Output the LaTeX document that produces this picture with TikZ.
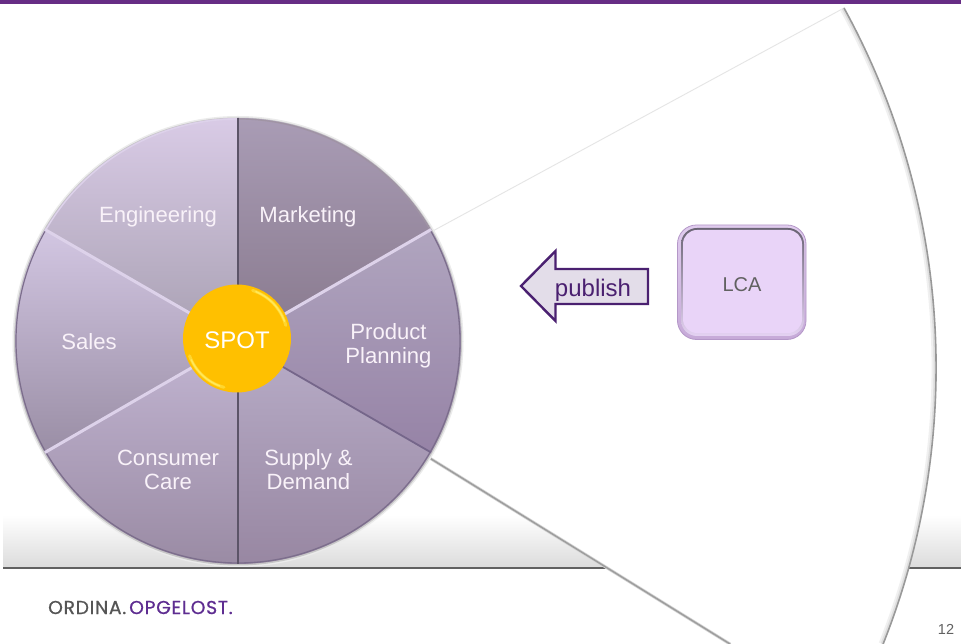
\documentclass[tikz,border=0pt]{standalone}
\usepackage{fontspec}
\setmainfont{Liberation Sans}
\newfontfamily\logofont[FakeBold=0.8,LetterSpace=4]{Poppins}
\definecolor{barpurple}{HTML}{672D85}
\definecolor{arrowline}{HTML}{4A2070}
\definecolor{arrowfill}{HTML}{E3DDE9}
\definecolor{lcafill}{HTML}{E9D4F8}
\definecolor{lcaoutA}{HTML}{E0CCEE}
\definecolor{lcaoutB}{HTML}{C6AAD8}
\definecolor{lcaedge}{HTML}{B497C8}
\definecolor{lcainA}{HTML}{6A6474}
\definecolor{lcainB}{HTML}{E4D2F2}
\definecolor{logogray}{HTML}{555555}
\definecolor{logopurple}{HTML}{5E2D91}
\definecolor{spot}{HTML}{FFC000}
\definecolor{spotlight}{HTML}{FFE95A}
\definecolor{spotmid}{HTML}{FFD62E}
\definecolor{wedgelight}{HTML}{DDD2EA}
\definecolor{wedgedark}{HTML}{5C5468}
\definecolor{lowspoke}{HTML}{75668A}
\definecolor{rimdark}{HTML}{7C6E8C}
\definecolor{m1}{HTML}{A99CB5}\definecolor{m2}{HTML}{88798D}
\definecolor{e1}{HTML}{D9CBE6}\definecolor{e2}{HTML}{A8A0B2}
\definecolor{s1}{HTML}{D2C6E2}\definecolor{s2}{HTML}{9A8EA5}
\definecolor{c1}{HTML}{C2B5D2}\definecolor{c2}{HTML}{9A8BA4}
\definecolor{d1}{HTML}{B8ADC8}\definecolor{d2}{HTML}{9887A2}
\definecolor{p1}{HTML}{B0A5BF}\definecolor{p2}{HTML}{9683A6}
\tikzset{
  x=1pt,y=1pt,
  wheeltext/.style={text=white!95!violet,font=\fontsize{22.1}{24}\selectfont,align=center,inner sep=0pt},
  wedge/.style n args={2}{top color=#1,bottom color=#2,draw=none},
  softline/.style={line cap=round,line join=round},
}
\newcommand{\wedgepath}[2]{(wc) -- ++(#1:223) arc[start angle=#1,end angle=#2,radius=223] -- cycle}
\newcommand{\fanedge}{(fanB) arc[start angle=28.73,end angle=-21.7,radius=748]}
\begin{document}
\begin{tikzpicture}
\useasboundingbox (0,0) rectangle (961,644);
\clip (0,0) rectangle (961,644);
\fill[white] (0,0) rectangle (961,644);
% top bar
\fill[barpurple] (0,640) rectangle (961,644);
% floor band
\shade[top color=white,bottom color=black!14,draw=none] (3,76) rectangle (961,129);
\draw[black!62,line width=1.3pt] (3,76) -- (961,76);
% fan behind the wheel
\coordinate (wc) at (238,303);
\coordinate (fanA) at (431,412);
\coordinate (fanB) at (844,636);
\coordinate (fanD) at (730,0);
\coordinate (fanE) at (428,187);
\fill[white] (fanE) -- (fanA) -- \fanedge -- (fanD) -- cycle;
\draw[black!10,line width=.9pt] (fanA) -- (fanB);
\draw[black!16,line width=3pt,softline] (fanD) -- (fanE);
\draw[black!38,line width=1.5pt,softline] (fanD) -- (fanE);
\begin{scope}
\clip (fanE) -- (fanA) -- \fanedge -- (fanD) -- cycle;
\draw[black!6,line width=9pt] \fanedge;
\draw[black!13,line width=5pt] \fanedge;
\end{scope}
\draw[black!40,line width=1.6pt] \fanedge;
% wheel shadow
\fill[black!8] (238,302.5) circle[radius=225.5];
\fill[black!22] (238,302.5) circle[radius=224];
% wedges
\shade[wedge={m1}{m2}] \wedgepath{30}{90};
\shade[wedge={e1}{e2}] \wedgepath{90}{150};
\shade[wedge={s1}{s2}] \wedgepath{150}{210};
\shade[wedge={c1}{c2}] \wedgepath{210}{270};
\shade[wedge={d1}{d2}] \wedgepath{270}{330};
\shade[wedge={p1}{p2}] \wedgepath{330}{390};
% rim
\draw[wedgelight,line width=1.4pt] (wc) ++(150:222) arc[start angle=150,end angle=90,radius=222];
\draw[m2!80!white,line width=1.2pt] (wc) ++(90:222) arc[start angle=90,end angle=30,radius=222];
\draw[rimdark,line width=1.3pt] (wc) ++(30:222) arc[start angle=30,end angle=-30,radius=222];
\draw[rimdark,line width=1.3pt] (wc) ++(-30:222) arc[start angle=-30,end angle=-90,radius=222];
\draw[rimdark,line width=1.3pt] (wc) ++(-90:222) arc[start angle=-90,end angle=-150,radius=222];
\draw[rimdark,line width=1.2pt] (wc) ++(210:222) arc[start angle=210,end angle=150,radius=222];
% spokes
\draw[wedgedark,line width=1.5pt] (wc) -- ++(90:223);
\draw[wedgedark,line width=1.5pt] (wc) -- ++(-90:223);
\draw[wedgelight,line width=3pt] (wc) -- ++(30:223);
\draw[wedgelight,line width=3pt] (wc) -- ++(150:223);
\draw[wedgelight,line width=3pt] (wc) -- ++(210:223);
\draw[lowspoke,line width=1.8pt] (wc) -- ++(-30:223);
% labels
\node[wheeltext] (engineering) at (158,427.5) {Engineering};
\node[wheeltext] (marketing) at (308,427.5) {Marketing};
\node[wheeltext] (planning) at (388.5,298.5) {Product\\Planning};
\node[wheeltext] (sales) at (89,302) {Sales};
\node[wheeltext] (care) at (168,174.5) {Consumer\\Care};
\node[wheeltext] (supply) at (308.5,174.5) {Supply \&\\Demand};
% hub
\fill[spot] (237,305.5) circle[radius=54];
\draw[spotmid,line width=3pt,line cap=round] (237,305.5) ++(72:50.5) arc[start angle=72,end angle=15,radius=50.5];
\draw[spotmid,line width=3pt,line cap=round] (237,305.5) ++(255:50.5) arc[start angle=255,end angle=200,radius=50.5];
\draw[spotlight,line width=1.5pt,line cap=round] (237,305.5) ++(68:50.5) arc[start angle=68,end angle=20,radius=50.5];
\draw[spotlight,line width=1.5pt,line cap=round] (237,305.5) ++(250:50.5) arc[start angle=250,end angle=205,radius=50.5];
\node[text=white,font=\fontsize{24}{26}\selectfont,inner sep=0pt] (hub) at (237,304) {SPOT};
% arrow
\coordinate (tip) at (521,358);
\filldraw[fill=arrowfill,draw=arrowline,line width=2.4pt,line join=miter]
  (tip) -- (555.5,393) -- (555.5,375) -- (648,375) -- (648,340) -- (555.5,340) -- (555.5,323) -- cycle;
\node[text=arrowline,font=\fontsize{24}{26}\selectfont,inner sep=0pt] (publish) at (593,354) {publish};
% LCA box with bevel
\shade[top color=lcaoutA,bottom color=lcaoutB,rounded corners=19pt] (677.5,304.5) rectangle (806,419);
\draw[lcaedge,line width=.8pt,rounded corners=19pt] (677.5,304.5) rectangle (806,419);
\shade[top color=lcainA,bottom color=lcainB,rounded corners=16pt] (681,308) rectangle (804,416);
\fill[lcafill,rounded corners=14pt] (683,311) rectangle (802,414);
\node[inner sep=0pt,text=black!62,font=\fontsize{20}{22}\selectfont] (lca) at (742,359) {LCA};
% footer
\node[anchor=west,inner sep=0pt,font=\logofont\fontsize{18.7}{20}\selectfont] (logo) at (48,36.5)
  {\textcolor{logogray}{ORDINA.}\hspace{3pt}\textcolor{logopurple}{OPGELOST.}};
\node[inner sep=0pt,text=black!62,font=\fontsize{14.5}{16}\selectfont] (pageno) at (946,14.5) {12};
\end{tikzpicture}
\end{document}
